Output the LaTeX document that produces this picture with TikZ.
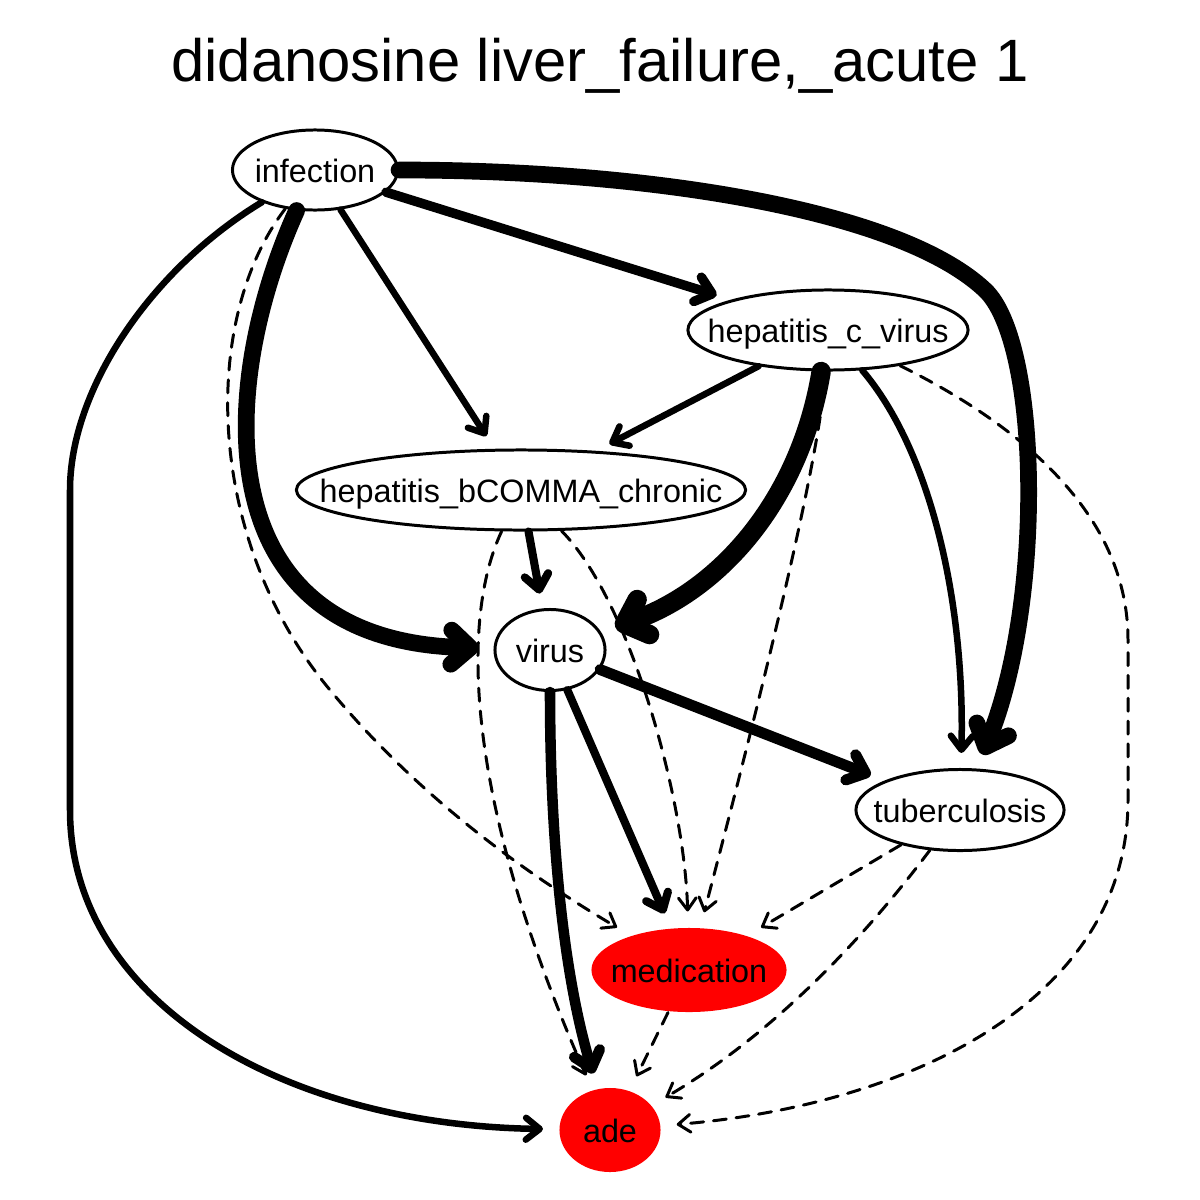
\documentclass[tikz,border=0pt]{standalone}
\usepackage{fontspec}
\setmainfont{Liberation Sans}
\usetikzlibrary{positioning,shapes.geometric,arrows.meta}

\newcommand{\nodetext}[1]{\makebox[0pt]{#1}}

\tikzset{
	vnode/.style={ellipse,draw,line width=0.85pt,inner sep=0pt,text height=7.3pt,text depth=0pt,font=\fontsize{9.2}{11}\selectfont},
	rednode/.style={vnode,draw=none,fill=red},
	edge/.style={->,line cap=round,line join=round,shorten >=0.15cm},
	dashedge/.style={edge,line width=0.85pt,dash pattern=on 3.7pt off 2.8pt},
	>={Straight Barb[length=3pt 0.5,width=4pt 1.2,round]}
}

\begin{document}
\begin{tikzpicture}[x=0.01cm,y=-0.01cm]
		\useasboundingbox (0,0) rectangle (1200,1200);
		\node[anchor=base,font=\fontsize{17}{20}\selectfont] (title) at (600,81) {didanosine liver\_failure,\_acute 1};

		\node[vnode,minimum width=1.65cm,minimum height=0.80cm] (infection) at (315,170) {\nodetext{infection}};
		\node[vnode,minimum width=2.80cm,minimum height=0.80cm] (hcv) at (828,330) {\nodetext{hepatitis\_c\_virus}};
		\node[vnode,minimum width=4.49cm,minimum height=0.80cm] (hbc) at (521,490) {\nodetext{hepatitis\_bCOMMA\_chronic}};
		\node[vnode,minimum width=1.10cm,minimum height=0.81cm] (virus) at (550,650) {\nodetext{virus}};
		\node[vnode,minimum width=2.08cm,minimum height=0.81cm] (tb) at (960,810) {\nodetext{tuberculosis}};
		\node[rednode,minimum width=1.95cm,minimum height=0.84cm] (medication) at (689,970) {\nodetext{medication}};
		\node[rednode,minimum width=1.01cm,minimum height=0.84cm] (ade) at (610,1130) {\nodetext{ade}};

		% from infection
		\draw[edge,line width=1.85pt] (infection) .. controls (150,270) and (70,390) .. (70,490) -- (70,810) .. controls (70,1000) and (280,1125) .. (ade);
		\draw[edge,line width=2.7pt] (infection) -- (hcv);
		\draw[edge,line width=4.75pt] (infection) .. controls (650,170) and (900,210) .. (985,290) .. controls (1040,342) and (1045,600) .. (tb);
		\draw[edge,line width=1.85pt] (infection) -- (hbc);
		\draw[edge,line width=4.75pt] (infection) .. controls (220,380) and (200,640) .. (virus);
		\draw[dashedge] (infection) .. controls (200,320) and (205,540) .. (330,690) .. controls (417,795) and (520,870) .. (medication);

		% from hepatitis_c_virus
		\draw[edge,line width=1.85pt] (hcv) -- (hbc);
		\draw[edge,line width=5.5pt] (hcv) .. controls (800,500) and (720,590) .. (virus);
		\draw[edge,line width=1.85pt] (hcv) .. controls (930,450) and (965,600) .. (tb);
		\draw[dashedge] (hcv) .. controls (820,460) and (760,700) .. (medication);
		\draw[dashedge] (hcv) .. controls (1030,430) and (1128,520) .. (1128,640) -- (1128,800) .. controls (1128,1000) and (910,1105) .. (ade);

		% from hepatitis_bCOMMA_chronic
		\draw[edge,line width=2.3pt] (hbc) -- (virus);
		\draw[dashedge] (hbc) .. controls (630,600) and (685,800) .. (medication);
		\draw[dashedge] (hbc) .. controls (460,620) and (465,800) .. (ade);

		% from virus
		\draw[edge,line width=3.1pt] (virus) -- (tb);
		\draw[edge,line width=2.3pt] (virus) -- (medication);
		\draw[edge,line width=3pt] (virus) .. controls (550,850) and (565,980) .. (ade);

		% from tuberculosis and medication
		\draw[dashedge] (tb) -- (medication);
		\draw[dashedge] (tb) .. controls (870,930) and (780,1030) .. (ade);
		\draw[dashedge] (medication) -- (ade);
	\end{tikzpicture}
\end{document}
